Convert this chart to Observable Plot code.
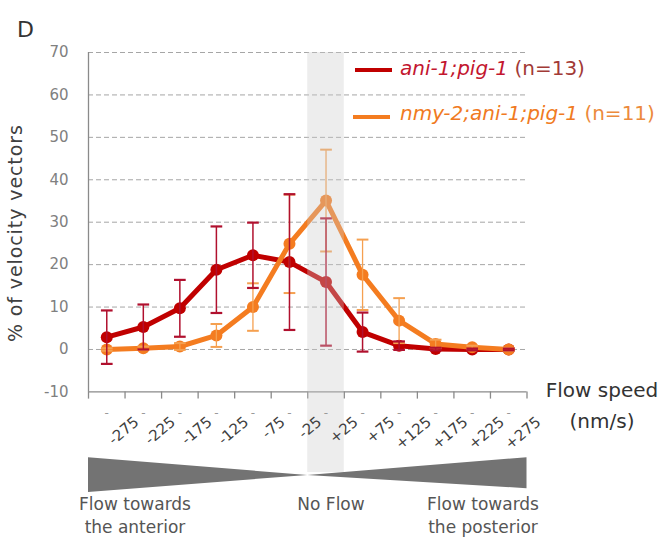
<!DOCTYPE html>
<html>
<head>
<meta charset="utf-8">
<script src="https://cdn.jsdelivr.net/npm/d3@7"></script>
<script src="https://cdn.jsdelivr.net/npm/@observablehq/plot@0.6"></script>
<style>
  body { margin: 0; background: #fff; font-family: "DejaVu Sans", sans-serif; }
  #wrap { position: relative; width: 666px; height: 538px; }
  .abs { position: absolute; white-space: nowrap; }
</style>
</head>
<body>
<div id="wrap"></div>
<script>
// ---- data ----
const speeds = [-275, -225, -175, -125, -75, -25, 25, 75, 125, 175, 225, 275];
const tickLabels = ["-275", "-225", "-175", "-125", "-75", "-25", "+25", "+75", "+125", "+175", "+225", "+275"];
const binEdges = [-300, -250, -200, -150, -100, -50, 0, 50, 100, 150, 200, 250, 300];
const redMean = [2.9, 5.3, 9.7, 18.8, 22.2, 20.6, 15.9, 4.1, 0.9, 0.1, 0, 0];
const redErr = [6.3, 5.3, 6.7, 10.2, 7.7, 16, 15, 4.6, 1, 0.3, 0.2, 0.2];
const orangeMean = [0, 0.3, 0.7, 3.3, 10, 24.9, 35.1, 17.6, 6.8, 1.3, 0.5, 0];
const orangeErr = [0.3, 0.4, 0.8, 2.7, 5.6, 11.6, 12, 8.3, 5.3, 1, 0.4, 0.3];
const yTicks = [-10, 0, 10, 20, 30, 40, 50, 60, 70];
const gridTicks = [0, 10, 20, 30, 40, 50, 60, 70];
const noFlowBin = [{x1: 0, x2: 50}];
// direction wedge (flow magnitude cue under the axis)
const wedge = [{s: -300, top: -25.5, bot: -33.7}, {s: 0, top: -29.7, bot: -29.7}, {s: 300, top: -25.5, bot: -32.8}];

const RED = "#c00000", ORANGE = "#f47c20";
const FONT = "'DejaVu Sans', sans-serif";

const red = speeds.map((s, i) => ({s, m: redMean[i], e: redErr[i]}));
const orange = speeds.map((s, i) => ({s, m: orangeMean[i], e: orangeErr[i]}));
const labels = speeds.map((s, i) => ({s, t: tickLabels[i]}));

function errMarks(data, color, w) {
  return [
    Plot.ruleX(data, {x: "s", y1: d => d.m - d.e, y2: d => d.m + d.e, stroke: color, strokeWidth: w}),
    Plot.link(data, {x1: d => d.s - 8, x2: d => d.s + 8, y1: d => d.m + d.e, y2: d => d.m + d.e, stroke: color, strokeWidth: w + 0.7}),
    Plot.link(data, {x1: d => d.s - 8, x2: d => d.s + 8, y1: d => d.m - d.e, y2: d => d.m - d.e, stroke: color, strokeWidth: w + 0.7})
  ];
}

const chart = Plot.plot({
  width: 666, height: 538,
  marginLeft: 88, marginRight: 139.5, marginTop: 52, marginBottom: 146.6,
  style: {fontFamily: FONT, background: "transparent", overflow: "visible"},
  x: {domain: [-300, 300], axis: null},
  y: {domain: [-10, 70], axis: null},
  marks: [
    Plot.ruleY(gridTicks, {stroke: "#a6a6a6", strokeDasharray: "5,3", strokeWidth: 1}),
    Plot.ruleX([-300], {y1: -10, y2: 70, stroke: "#8a8a8a", strokeWidth: 1.3}),
    Plot.ruleY([-10], {stroke: "#8a8a8a", strokeWidth: 1.3}),
    Plot.ruleX(binEdges, {y1: -10, y2: -11.7, stroke: "#8a8a8a", strokeWidth: 1.3}),
    Plot.axisY({ticks: yTicks, tickSize: 0, tickPadding: 20, fontSize: 15, color: "#808080", label: null, tickFormat: d => String(d)}),
    Plot.text(["% of velocity vectors"], {frameAnchor: "left", textAnchor: "middle", rotate: -90, dx: -73, dy: 11, fontSize: 19, fill: "#404040"}),
    // series
    Plot.line(red, {x: "s", y: "m", stroke: RED, strokeWidth: 5}),
    Plot.dot(red, {x: "s", y: "m", r: 6, fill: RED}),
    Plot.line(orange, {x: "s", y: "m", stroke: ORANGE, strokeWidth: 5}),
    Plot.dot(orange, {x: "s", y: "m", r: 6, fill: ORANGE}),
    ...errMarks(orange, "#f5a050", 1.3),
    ...errMarks(red, "#b0102e", 1.5),
    // no-flow band
    Plot.rect(noFlowBin, {x1: "x1", x2: "x2", y1: -29, y2: 70, fill: "#cccccc", fillOpacity: 0.35}),
    // tick labels
    Plot.text(labels, {x: "s", y: -10, text: "t", rotate: -40, textAnchor: "end", dx: 30, dy: 28, fontSize: 15, fill: "#404040"}),
    Plot.text(labels, {x: "s", y: -10, text: () => "-", dy: 21, fontSize: 12, fill: "#9a9a9a"}),
    // wedge
    Plot.areaY(wedge, {x: "s", y1: "top", y2: "bot", fill: "#737373"})
  ]
});
const wrap = document.getElementById("wrap");
chart.style.position = "absolute";
chart.style.left = "0px";
chart.style.top = "0px";
wrap.appendChild(chart);
d3.select(chart).selectAll("text").filter(function () { return this.textContent === "% of velocity vectors"; })
  .style("letter-spacing", "0.9px");

// helper: place text by baseline (DejaVu metrics: ascent .928, descent .236)
function addText(html, opts) {
  const f = opts.size, lh = opts.lh || Math.round(1.164 * f);
  const top = opts.baseline - ((lh - 1.164 * f) / 2 + 0.928 * f);
  const d = document.createElement("div");
  d.className = "abs";
  d.innerHTML = html;
  Object.assign(d.style, {top: top + "px", fontSize: f + "px", lineHeight: lh + "px", color: opts.color || "#404040"});
  if (opts.cx != null) {
    const w = opts.width || 200;
    Object.assign(d.style, {left: (opts.cx - w / 2) + "px", width: w + "px", textAlign: "center"});
  } else {
    d.style.left = opts.left + "px";
  }
  wrap.appendChild(d);
}
function addLine(left, top, w, color) {
  const d = document.createElement("div");
  d.className = "abs";
  Object.assign(d.style, {left: left + "px", top: top + "px", width: w + "px", height: "4px", background: color});
  wrap.appendChild(d);
}
addText("D", {left: 17, baseline: 38, size: 22, color: "#333"});
// legend
addLine(355, 68, 37, RED);
addText('<i style="color:#c3162f">ani-1;pig-1</i> <span style="color:#a23a36">(n=13)</span>', {left: 400, baseline: 75, size: 20});
addLine(353, 115, 37, ORANGE);
addText('<i style="color:#f07a22">nmy-2;ani-1;pig-1</i> <span style="color:#ec8a3c">(n=11)</span>', {left: 400, baseline: 120, size: 20});
// x title
addText("Flow speed<br>(nm/s)", {cx: 602, baseline: 397, size: 20, lh: 31, color: "#333"});
// bottom annotations
addText("Flow towards<br>the anterior", {cx: 135, baseline: 510, size: 17, lh: 23, color: "#555"});
addText("No Flow", {cx: 331, baseline: 510, size: 17, lh: 23, color: "#555"});
addText("Flow towards<br>the posterior", {cx: 483, baseline: 510, size: 17, lh: 23, color: "#555"});
</script>
</body>
</html>
